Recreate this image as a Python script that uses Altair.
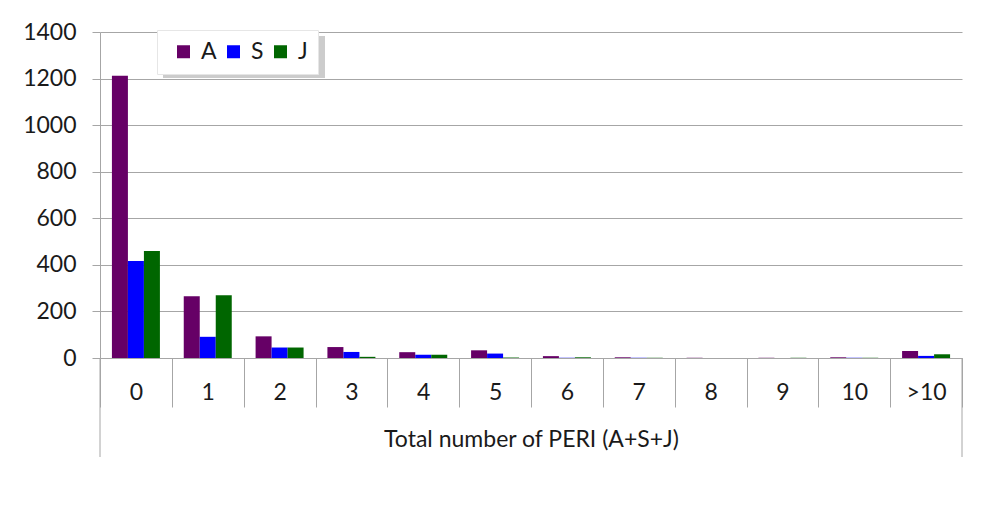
import altair as alt
import pandas as pd

categories = ["0", "1", "2", "3", "4", "5", "6", "7", "8", "9", "10", ">10"]
series = ["A", "S", "J"]
values_A = [1212, 265, 93, 47, 25, 33, 8, 3, 1, 1, 3, 30]
values_S = [417, 91, 45, 26, 14, 19, 1, 1, 0, 0, 1, 9]
values_J = [460, 269, 45, 5, 14, 2, 3, 1, 0, 1, 1, 16]
colors = ["#660066", "#0000FF", "#006600"]
y_ticks = [0, 200, 400, 600, 800, 1000, 1200, 1400]

rows = []
for s, vals in zip(series, [values_A, values_S, values_J]):
    for c, v in zip(categories, vals):
        rows.append({"cat": c, "series": s, "value": v})
df = pd.DataFrame(rows)

W, H = 862, 326
FONT = "Lato"
FS = 23
GRAY = "#a6a6a6"
TXT = "#1a1a1a"

bars = alt.Chart(df).mark_bar().encode(
    x=alt.X(
        "cat:N",
        sort=categories,
        scale=alt.Scale(paddingInner=0, paddingOuter=0),
        axis=alt.Axis(
            title="Total number of PERI (A+S+J)",
            labelAngle=0,
            tickBand="extent",
            tickSize=49,
            labelPadding=-15,
            labelBaseline="middle",
            domainColor=GRAY,
            tickColor=GRAY,
            labelColor=TXT,
            titleColor=TXT,
            labelFont=FONT,
            titleFont=FONT,
            labelFontSize=FS,
            titleFontSize=FS,
            titleFontWeight="normal",
            titlePadding=21,
            grid=False,
        ),
    ),
    xOffset=alt.XOffset(
        "series:N", sort=series, scale=alt.Scale(paddingInner=0, paddingOuter=0.745)
    ),
    y=alt.Y(
        "value:Q",
        scale=alt.Scale(domain=[0, 1400], nice=False),
        axis=alt.Axis(
            values=y_ticks,
            format="d",
            title=None,
            tickSize=8,
            labelPadding=16,
            grid=True,
            gridColor=GRAY,
            domainColor=GRAY,
            tickColor=GRAY,
            labelColor=TXT,
            labelFont=FONT,
            labelFontSize=FS,
        ),
    ),
    color=alt.Color(
        "series:N",
        sort=series,
        scale=alt.Scale(domain=series, range=colors),
        legend=alt.Legend(
            title=" ",
            titleOrient="left",
            titleFontSize=4,
            titlePadding=5,
            orient="none",
            legendX=57,
            legendY=-2,
            direction="horizontal",
            symbolType="square",
            symbolSize=169,
            symbolStrokeWidth=0,
            labelFont=FONT,
            labelFontSize=FS,
            labelColor=TXT,
            labelOffset=6,
            fillColor="white",
            strokeColor="#e6e6e6",
            padding=10,
            columnPadding=5,
        ),
    ),
)

frame_df = pd.DataFrame({"k": [0]})
left_line = alt.Chart(frame_df).mark_rule(color=GRAY).encode(
    x=alt.value(0), y=alt.value(H), y2=alt.value(H + 99)
)
right_line = alt.Chart(frame_df).mark_rule(color=GRAY).encode(
    x=alt.value(W), y=alt.value(H), y2=alt.value(H + 99)
)
shadow = alt.Chart(frame_df).mark_rect(color="#9a9a9a", opacity=0.5).encode(
    x=alt.value(63), x2=alt.value(225), y=alt.value(4), y2=alt.value(46)
)

chart = (
    alt.layer(bars, shadow, left_line, right_line)
    .properties(
        width=W,
        height=H,
        autosize=alt.AutoSizeParams(type="none"),
        padding={"left": 92, "top": 24, "right": 13, "bottom": 164},
        background="white",
    )
    .configure_view(stroke=None)
)

chart.save("out.html", embed_options={"renderer": "svg", "actions": False})
